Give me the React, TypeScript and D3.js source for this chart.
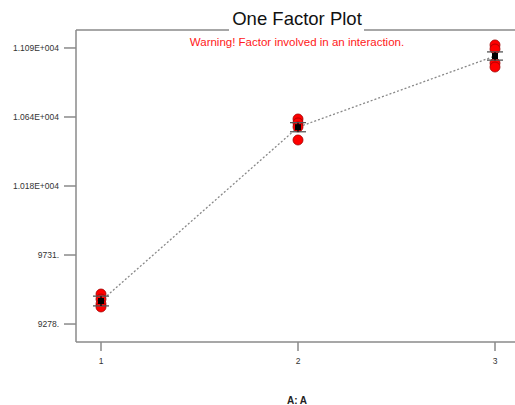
import React from "react";
import * as d3 from "d3";

const levels = [1, 2, 3];
const levelPoints = [
  [9475, 9442, 9409, 9390],
  [10624, 10598, 10572, 10486],
  [11110, 11083, 10991, 10965],
];
const lsdHalf = [32, 30, 27];
const yTicks = [9278, 9731, 10184, 10637, 11090];
const yTickLabels = ["9278.", "9731.", "1.018E+004", "1.064E+004", "1.109E+004"];
const xTickLabels = ["1", "2", "3"];

const W = 515;
const H = 405;
const left = 76;
const top = 30;
const bottom = 342;

export default function App() {
  const y = d3.scaleLinear().domain([9160, 11208]).range([bottom, top]);
  const x = d3.scaleLinear().domain([1, 3]).range([101, 495]);
  const means = levelPoints.map((p) => d3.mean(p) as number);
  const line = d3
    .line<number>()
    .x((_, i) => x(levels[i]))
    .y((d) => y(d));
  const gray = "#8a8a8a";
  return (
    <svg
      width={W}
      height={H}
      style={{ position: "absolute", left: 0, top: 0 }}
      fontFamily="Arial, Liberation Sans, sans-serif"
    >
      <rect width={W} height={H} fill="#fff" />
      <line x1={left} y1={top} x2={left} y2={bottom} stroke={gray} strokeWidth={1.5} />
      <line x1={left} y1={bottom} x2={W} y2={bottom} stroke={gray} strokeWidth={1.5} />
      <line x1={left} y1={top} x2={229} y2={top} stroke={gray} strokeWidth={1.5} />
      <line x1={364} y1={top} x2={W} y2={top} stroke={gray} strokeWidth={1.5} />
      <text x={297} y={25} textAnchor="middle" fontSize={18.5} fill="#111">
        One Factor Plot
      </text>
      <text x={297} y={46} textAnchor="middle" fontSize={11.5} fill="#ff2020">
        Warning! Factor involved in an interaction.
      </text>
      {yTicks.map((t, i) => (
        <g key={t}>
          <line x1={64} x2={left} y1={y(t)} y2={y(t)} stroke={gray} strokeWidth={1.5} />
          <text x={59} y={y(t) + 3} textAnchor="end" fontSize={8.5} fill="#333">
            {yTickLabels[i]}
          </text>
        </g>
      ))}
      {levels.map((l, i) => (
        <g key={l}>
          <line x1={x(l)} x2={x(l)} y1={bottom} y2={bottom + 9} stroke={gray} strokeWidth={1.5} />
          <text x={x(l)} y={364} textAnchor="middle" fontSize={8.5} fill="#333">
            {xTickLabels[i]}
          </text>
        </g>
      ))}
      <text x={297} y={404} textAnchor="middle" fontSize={10} fontWeight="bold" fill="#222">
        A: A
      </text>
      <path
        d={line(means) || ""}
        fill="none"
        stroke="#888"
        strokeWidth={1.3}
        strokeDasharray="2,2"
      />
      {levels.map((l, i) => (
        <g key={"p" + l}>
          {levelPoints[i].map((v, j) => (
            <circle key={j} cx={x(l)} cy={y(v)} r={5} fill="#ff0000" stroke="#a00000" strokeWidth={0.8} />
          ))}
          <rect x={x(l) - 3} y={y(means[i]) - 3} width={6} height={6} fill="#000" />
          <line
            x1={x(l) - 8}
            x2={x(l) + 8}
            y1={y(means[i] + lsdHalf[i])}
            y2={y(means[i] + lsdHalf[i])}
            stroke="#555"
            strokeWidth={1.3}
          />
          <line
            x1={x(l) - 8}
            x2={x(l) + 8}
            y1={y(means[i] - lsdHalf[i])}
            y2={y(means[i] - lsdHalf[i])}
            stroke="#555"
            strokeWidth={1.3}
          />
          <line
            x1={x(l)}
            x2={x(l)}
            y1={y(means[i] + lsdHalf[i])}
            y2={y(means[i] - lsdHalf[i])}
            stroke="#000"
            strokeWidth={1.3}
          />
        </g>
      ))}
    </svg>
  );
}
